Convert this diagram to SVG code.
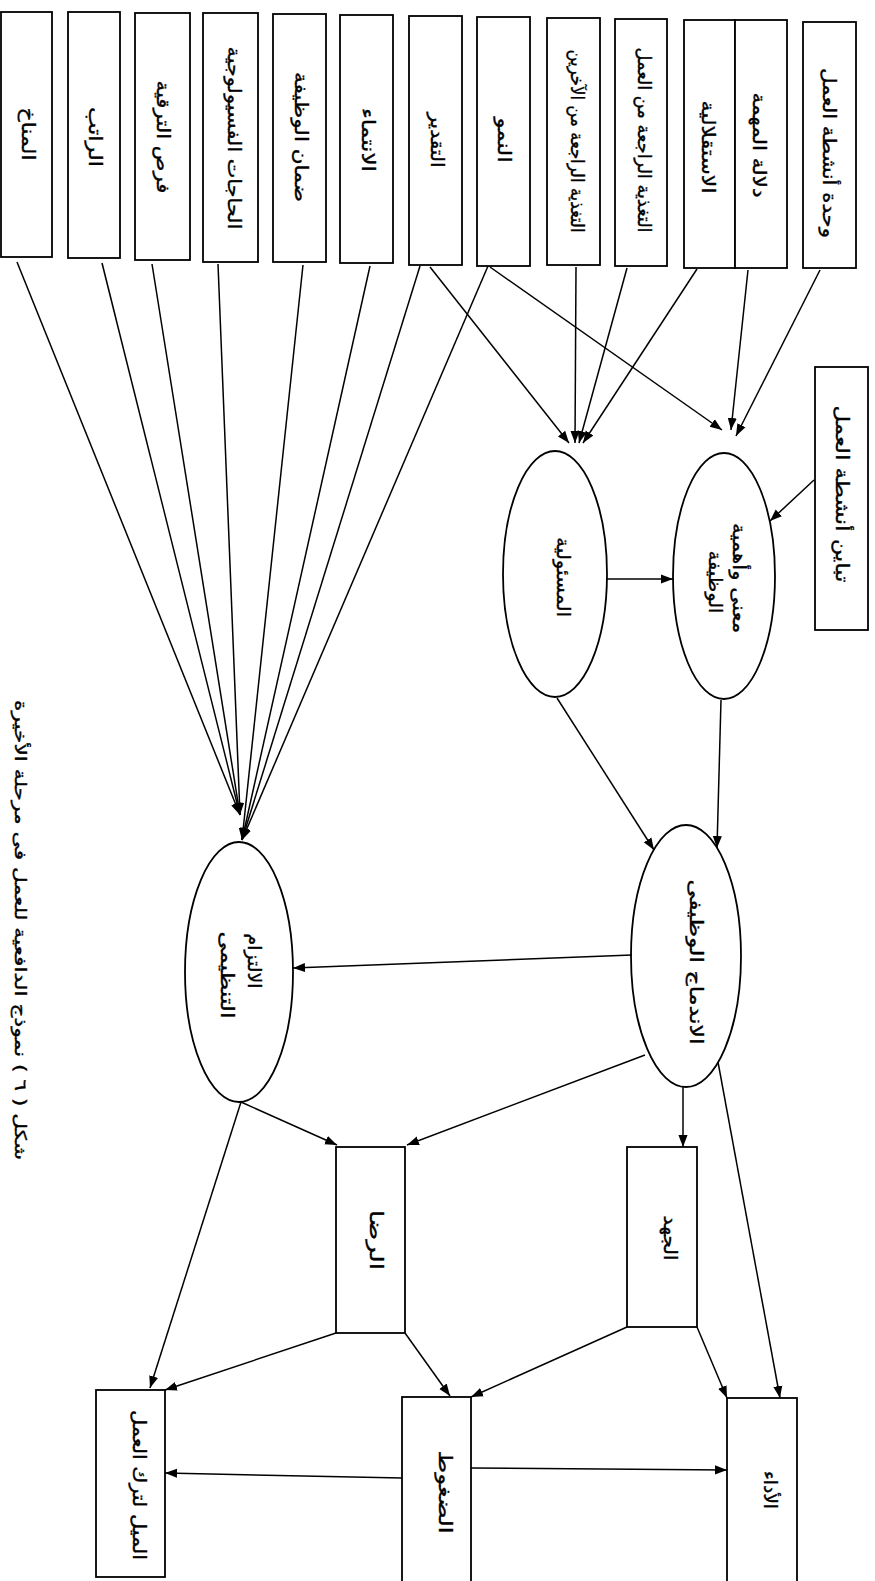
<svg xmlns="http://www.w3.org/2000/svg" width="875" height="1581" viewBox="0 0 875 1581">
<style>
.b{fill:#fff;stroke:#000;stroke-width:1.8}
.t{font-family:"DejaVu Sans","Noto Sans",sans-serif;font-size:18px;fill:#000;stroke:#000;stroke-width:0.35;text-anchor:middle;dominant-baseline:central;direction:rtl}
.c line{stroke:#000;stroke-width:1.5;marker-end:url(#ah)}
</style>
<defs>
<marker id="ah" viewBox="0 0 10 10" refX="10" refY="5" markerWidth="12" markerHeight="12" markerUnits="userSpaceOnUse" orient="auto"><path d="M0,1.2 L10,5 L0,8.8 z" fill="#000"/></marker>
</defs>
<rect width="875" height="1581" fill="#fff"/>

<g id="n-manakh"><rect class="b" x="1" y="12" width="51" height="245"/><text class="t" textLength="53" lengthAdjust="spacingAndGlyphs" transform="translate(28,134) rotate(90)">المناخ</text></g>
<g id="n-rateb"><rect class="b" x="68" y="12" width="52" height="246"/><text class="t" textLength="60" lengthAdjust="spacingAndGlyphs" transform="translate(95,137) rotate(90)">الراتب</text></g>
<g id="n-forsa"><rect class="b" x="135" y="13" width="55" height="247"/><text class="t" textLength="113" lengthAdjust="spacingAndGlyphs" transform="translate(163,137) rotate(90)">فرص الترقية</text></g>
<g id="n-hajat"><rect class="b" x="203" y="13" width="55" height="249"/><text class="t" textLength="183" lengthAdjust="spacingAndGlyphs" transform="translate(234,138) rotate(90)">الحاجات الفسيولوجية</text></g>
<g id="n-daman"><rect class="b" x="273" y="14" width="53" height="248"/><text class="t" textLength="130" lengthAdjust="spacingAndGlyphs" transform="translate(301,137) rotate(90)">ضمان الوظيفة</text></g>
<g id="n-intima"><rect class="b" x="340" y="15" width="53" height="248"/><text class="t" textLength="64" lengthAdjust="spacingAndGlyphs" transform="translate(368,140) rotate(90)">الانتماء</text></g>
<g id="n-taqdir"><rect class="b" x="409" y="16" width="53" height="249"/><text class="t" textLength="55" lengthAdjust="spacingAndGlyphs" transform="translate(437,140) rotate(90)">التقدير</text></g>
<g id="n-numuw"><rect class="b" x="477" y="17" width="53" height="249"/><text class="t" textLength="45" lengthAdjust="spacingAndGlyphs" transform="translate(504,140) rotate(90)">النمو</text></g>
<g id="n-fb-others"><rect class="b" x="547" y="18" width="53" height="247"/><text class="t" textLength="183" lengthAdjust="spacingAndGlyphs" transform="translate(577,141) rotate(90)">التغذية الراجعة من الآخرين</text></g>
<g id="n-fb-work"><rect class="b" x="615" y="19" width="52" height="247"/><text class="t" textLength="185" lengthAdjust="spacingAndGlyphs" transform="translate(644,140) rotate(90)">التغذية الراجعة من العمل</text></g>
<g id="n-autonomy"><rect class="b" x="684" y="20" width="51" height="248"/><text class="t" textLength="93" lengthAdjust="spacingAndGlyphs" transform="translate(708,147) rotate(90)">الاستقلالية</text></g>
<g id="n-significance"><rect class="b" x="735" y="20" width="52" height="248"/><text class="t" textLength="105" lengthAdjust="spacingAndGlyphs" transform="translate(759,145) rotate(90)">دلالة المهمة</text></g>
<g id="n-identity"><rect class="b" x="803" y="22" width="53" height="246"/><text class="t" textLength="170" lengthAdjust="spacingAndGlyphs" transform="translate(829,153) rotate(90)">وحدة أنشطة العمل</text></g>
<g id="n-variety"><rect class="b" x="815" y="367" width="53" height="263"/><text class="t" textLength="177" lengthAdjust="spacingAndGlyphs" transform="translate(842,494) rotate(90)">تباين أنشطة العمل</text></g>

<g id="n-meaning"><ellipse class="b" cx="724" cy="576" rx="51" ry="123"/><text class="t" textLength="110" lengthAdjust="spacingAndGlyphs" transform="translate(739,578) rotate(90)">معنى وأهمية</text><text class="t" textLength="63" lengthAdjust="spacingAndGlyphs" transform="translate(715,582) rotate(90)">الوظيفة</text></g>
<g id="n-responsibility"><ellipse class="b" cx="555" cy="574" rx="52" ry="123"/><text class="t" textLength="80" lengthAdjust="spacingAndGlyphs" transform="translate(563,577) rotate(90)">المسئولية</text></g>
<g id="n-involvement"><ellipse class="b" cx="686" cy="956" rx="55" ry="131"/><text class="t" textLength="165" lengthAdjust="spacingAndGlyphs" transform="translate(696,962) rotate(90)">الاندماج الوظيفى</text></g>
<g id="n-commitment"><ellipse class="b" cx="239" cy="972" rx="54" ry="130"/><text class="t" textLength="55" lengthAdjust="spacingAndGlyphs" transform="translate(254,961) rotate(90)">الالتزام</text><text class="t" textLength="87" lengthAdjust="spacingAndGlyphs" transform="translate(227,975) rotate(90)">التنظيمى</text></g>

<g id="n-satisfaction"><rect class="b" x="336" y="1147" width="69" height="186"/><text class="t" textLength="60" lengthAdjust="spacingAndGlyphs" transform="translate(376,1240) rotate(90)">الرضا</text></g>
<g id="n-effort"><rect class="b" x="627" y="1147" width="70" height="180"/><text class="t" textLength="45" lengthAdjust="spacingAndGlyphs" transform="translate(670,1238) rotate(90)">الجهد</text></g>
<g id="n-performance"><rect class="b" x="727" y="1398" width="70" height="200"/><text class="t" textLength="38" lengthAdjust="spacingAndGlyphs" transform="translate(770,1490) rotate(90)">الأداء</text></g>
<g id="n-stress"><rect class="b" x="402" y="1397" width="69" height="190"/><text class="t" textLength="83" lengthAdjust="spacingAndGlyphs" transform="translate(445,1492) rotate(90)">الضغوط</text></g>
<g id="n-turnover"><rect class="b" x="96" y="1390" width="69" height="187"/><text class="t" textLength="150" lengthAdjust="spacingAndGlyphs" transform="translate(139,1485) rotate(90)">الميل لترك العمل</text></g>

<g id="caption"><text class="t" style="font-size:16px" textLength="460" lengthAdjust="spacingAndGlyphs" transform="translate(20,930) rotate(90)">شكل ( ٦ ) نموذج الدافعية للعمل فى مرحلة الأخيرة</text></g>

<g id="connectors" class="c">
<line x1="17" y1="262" x2="240" y2="815"/>
<line x1="102" y1="263" x2="240" y2="815"/>
<line x1="152" y1="264" x2="240" y2="815"/>
<line x1="218" y1="264" x2="240" y2="815"/>
<line x1="303" y1="265" x2="242" y2="840"/>
<line x1="370" y1="266" x2="242" y2="840"/>
<line x1="420" y1="266" x2="242" y2="840"/>
<line x1="488" y1="266" x2="242" y2="840"/>
<line x1="430" y1="267" x2="569" y2="443"/>
<line x1="576" y1="267" x2="575" y2="443"/>
<line x1="627" y1="268" x2="579" y2="443"/>
<line x1="697" y1="269" x2="583" y2="443"/>
<line x1="490" y1="267" x2="722" y2="430"/>
<line x1="748" y1="270" x2="731" y2="430"/>
<line x1="820" y1="270" x2="736" y2="436"/>
<line x1="814" y1="480" x2="770" y2="521"/>
<line x1="607" y1="579" x2="673" y2="579"/>
<line x1="557" y1="698" x2="654" y2="850"/>
<line x1="721" y1="700" x2="717" y2="848"/>
<line x1="632" y1="955" x2="293" y2="968"/>
<line x1="645" y1="1055" x2="407" y2="1145"/>
<line x1="241" y1="1102" x2="337" y2="1145"/>
<line x1="241" y1="1102" x2="150" y2="1388"/>
<line x1="683" y1="1087" x2="683" y2="1147"/>
<line x1="718" y1="1062" x2="780" y2="1398"/>
<line x1="697" y1="1327" x2="727" y2="1398"/>
<line x1="627" y1="1327" x2="471" y2="1397"/>
<line x1="405" y1="1333" x2="450" y2="1396"/>
<line x1="336" y1="1333" x2="165" y2="1390"/>
<line x1="471" y1="1468" x2="727" y2="1470"/>
<line x1="402" y1="1478" x2="165" y2="1473"/>
</g>
</svg>
